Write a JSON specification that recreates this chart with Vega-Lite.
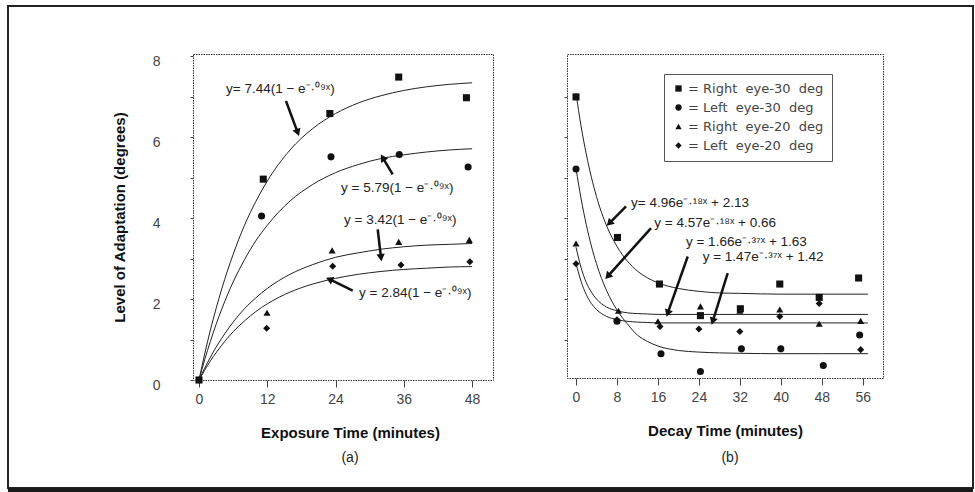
{
  "$schema": "https://vega.github.io/schema/vega-lite/v6.json",
  "background": "white",
  "padding": {"left": 6, "top": 4, "right": 0, "bottom": 0},
  "bounds": "flush",
  "spacing": 74,
  "datasets": {
    "frame": [{"x": -33.56, "x2": 136.02, "y": 9.235, "y2": -2.667}],
    "band": [{"x": -33.56, "x2": 136.02, "y": -2.667, "y2": -2.95}],
    "capA": [{"x": 26.54, "y": -1.926, "t": "(a)"}],
    "capB": [{"x": 30.08, "y": -1.915, "t": "(b)"}],
    "ptsA": [
      {"s": "R30", "x": 0, "y": 0}, {"s": "R30", "x": 11.3, "y": 4.96}, {"s": "R30", "x": 23, "y": 6.58}, {"s": "R30", "x": 35.1, "y": 7.48}, {"s": "R30", "x": 47, "y": 6.97},
      {"s": "L30", "x": 11, "y": 4.05}, {"s": "L30", "x": 23.2, "y": 5.51}, {"s": "L30", "x": 35.2, "y": 5.57}, {"s": "L30", "x": 47.3, "y": 5.26},
      {"s": "R20", "x": 11.95, "y": 1.66}, {"s": "R20", "x": 23.4, "y": 3.2}, {"s": "R20", "x": 35.1, "y": 3.41}, {"s": "R20", "x": 47.5, "y": 3.46},
      {"s": "L20", "x": 0, "y": 0}, {"s": "L20", "x": 11.9, "y": 1.28}, {"s": "L20", "x": 23.5, "y": 2.81}, {"s": "L20", "x": 35.5, "y": 2.84}, {"s": "L20", "x": 47.6, "y": 2.92}
    ],
    "ptsB": [
      {"s": "R30", "x": 0, "y": 7.0}, {"s": "R30", "x": 8.1, "y": 3.53}, {"s": "R30", "x": 16.3, "y": 2.38}, {"s": "R30", "x": 24.3, "y": 1.6}, {"s": "R30", "x": 32.1, "y": 1.77}, {"s": "R30", "x": 39.8, "y": 2.38}, {"s": "R30", "x": 47.5, "y": 2.05}, {"s": "R30", "x": 55.2, "y": 2.53},
      {"s": "L30", "x": 0, "y": 5.22}, {"s": "L30", "x": 8, "y": 1.46}, {"s": "L30", "x": 16.6, "y": 0.66}, {"s": "L30", "x": 24.3, "y": 0.22}, {"s": "L30", "x": 32.3, "y": 0.78}, {"s": "L30", "x": 40, "y": 0.78}, {"s": "L30", "x": 48.3, "y": 0.37}, {"s": "L30", "x": 55.4, "y": 1.12},
      {"s": "R20", "x": 0, "y": 3.38}, {"s": "R20", "x": 8.3, "y": 1.72}, {"s": "R20", "x": 16, "y": 1.46}, {"s": "R20", "x": 24.3, "y": 1.83}, {"s": "R20", "x": 32, "y": 1.72}, {"s": "R20", "x": 39.8, "y": 1.75}, {"s": "R20", "x": 47.5, "y": 1.4}, {"s": "R20", "x": 55.6, "y": 1.47},
      {"s": "L20", "x": 0, "y": 2.88}, {"s": "L20", "x": 8, "y": 1.5}, {"s": "L20", "x": 16.4, "y": 1.33}, {"s": "L20", "x": 24, "y": 1.27}, {"s": "L20", "x": 32, "y": 1.21}, {"s": "L20", "x": 39.8, "y": 1.58}, {"s": "L20", "x": 47.5, "y": 1.9}, {"s": "L20", "x": 55.6, "y": 0.76}
    ],
    "curveA": [
      {"s": "R30", "x": 0, "y": 0}, {"s": "R30", "x": 1, "y": 0.64}, {"s": "R30", "x": 2, "y": 1.23}, {"s": "R30", "x": 3, "y": 1.76}, {"s": "R30", "x": 4, "y": 2.25}, {"s": "R30", "x": 6, "y": 3.1}, {"s": "R30", "x": 8, "y": 3.82}, {"s": "R30", "x": 10, "y": 4.41}, {"s": "R30", "x": 12, "y": 4.91}, {"s": "R30", "x": 16, "y": 5.68}, {"s": "R30", "x": 20, "y": 6.21}, {"s": "R30", "x": 24, "y": 6.58}, {"s": "R30", "x": 28, "y": 6.84}, {"s": "R30", "x": 32, "y": 7.02}, {"s": "R30", "x": 36, "y": 7.15}, {"s": "R30", "x": 40, "y": 7.24}, {"s": "R30", "x": 44, "y": 7.3}, {"s": "R30", "x": 48, "y": 7.34},
      {"s": "L30", "x": 0, "y": 0}, {"s": "L30", "x": 1, "y": 0.5}, {"s": "L30", "x": 2, "y": 0.95}, {"s": "L30", "x": 3, "y": 1.37}, {"s": "L30", "x": 4, "y": 1.75}, {"s": "L30", "x": 6, "y": 2.42}, {"s": "L30", "x": 8, "y": 2.97}, {"s": "L30", "x": 10, "y": 3.44}, {"s": "L30", "x": 12, "y": 3.82}, {"s": "L30", "x": 16, "y": 4.42}, {"s": "L30", "x": 20, "y": 4.83}, {"s": "L30", "x": 24, "y": 5.12}, {"s": "L30", "x": 28, "y": 5.32}, {"s": "L30", "x": 32, "y": 5.47}, {"s": "L30", "x": 36, "y": 5.56}, {"s": "L30", "x": 40, "y": 5.63}, {"s": "L30", "x": 44, "y": 5.68}, {"s": "L30", "x": 48, "y": 5.71},
      {"s": "R20", "x": 0, "y": 0}, {"s": "R20", "x": 1, "y": 0.29}, {"s": "R20", "x": 2, "y": 0.56}, {"s": "R20", "x": 3, "y": 0.81}, {"s": "R20", "x": 4, "y": 1.03}, {"s": "R20", "x": 6, "y": 1.43}, {"s": "R20", "x": 8, "y": 1.76}, {"s": "R20", "x": 10, "y": 2.03}, {"s": "R20", "x": 12, "y": 2.26}, {"s": "R20", "x": 16, "y": 2.61}, {"s": "R20", "x": 20, "y": 2.85}, {"s": "R20", "x": 24, "y": 3.03}, {"s": "R20", "x": 28, "y": 3.14}, {"s": "R20", "x": 32, "y": 3.23}, {"s": "R20", "x": 36, "y": 3.29}, {"s": "R20", "x": 40, "y": 3.33}, {"s": "R20", "x": 44, "y": 3.35}, {"s": "R20", "x": 48, "y": 3.37},
      {"s": "L20", "x": 0, "y": 0}, {"s": "L20", "x": 1, "y": 0.24}, {"s": "L20", "x": 2, "y": 0.47}, {"s": "L20", "x": 3, "y": 0.67}, {"s": "L20", "x": 4, "y": 0.86}, {"s": "L20", "x": 6, "y": 1.19}, {"s": "L20", "x": 8, "y": 1.46}, {"s": "L20", "x": 10, "y": 1.69}, {"s": "L20", "x": 12, "y": 1.88}, {"s": "L20", "x": 16, "y": 2.17}, {"s": "L20", "x": 20, "y": 2.37}, {"s": "L20", "x": 24, "y": 2.51}, {"s": "L20", "x": 28, "y": 2.61}, {"s": "L20", "x": 32, "y": 2.68}, {"s": "L20", "x": 36, "y": 2.73}, {"s": "L20", "x": 40, "y": 2.76}, {"s": "L20", "x": 44, "y": 2.79}, {"s": "L20", "x": 48, "y": 2.8}
    ],
    "curveB": [
      {"s": "R30", "x": 0, "y": 7.09}, {"s": "R30", "x": 1, "y": 6.27}, {"s": "R30", "x": 2, "y": 5.59}, {"s": "R30", "x": 3, "y": 5.02}, {"s": "R30", "x": 4, "y": 4.54}, {"s": "R30", "x": 6, "y": 3.81}, {"s": "R30", "x": 8, "y": 3.31}, {"s": "R30", "x": 10, "y": 2.95}, {"s": "R30", "x": 12, "y": 2.7}, {"s": "R30", "x": 14, "y": 2.53}, {"s": "R30", "x": 16, "y": 2.41}, {"s": "R30", "x": 20, "y": 2.27}, {"s": "R30", "x": 24, "y": 2.2}, {"s": "R30", "x": 28, "y": 2.16}, {"s": "R30", "x": 32, "y": 2.15}, {"s": "R30", "x": 40, "y": 2.13}, {"s": "R30", "x": 48, "y": 2.13}, {"s": "R30", "x": 57, "y": 2.13},
      {"s": "L30", "x": 0, "y": 5.23}, {"s": "L30", "x": 1, "y": 4.48}, {"s": "L30", "x": 2, "y": 3.85}, {"s": "L30", "x": 3, "y": 3.32}, {"s": "L30", "x": 4, "y": 2.88}, {"s": "L30", "x": 6, "y": 2.21}, {"s": "L30", "x": 8, "y": 1.74}, {"s": "L30", "x": 10, "y": 1.4}, {"s": "L30", "x": 12, "y": 1.12}, {"s": "L30", "x": 14, "y": 0.96}, {"s": "L30", "x": 16, "y": 0.85}, {"s": "L30", "x": 20, "y": 0.74}, {"s": "L30", "x": 24, "y": 0.7}, {"s": "L30", "x": 28, "y": 0.68}, {"s": "L30", "x": 32, "y": 0.67}, {"s": "L30", "x": 40, "y": 0.66}, {"s": "L30", "x": 48, "y": 0.66}, {"s": "L30", "x": 57, "y": 0.66},
      {"s": "R20", "x": 0, "y": 3.29}, {"s": "R20", "x": 1, "y": 2.78}, {"s": "R20", "x": 2, "y": 2.42}, {"s": "R20", "x": 3, "y": 2.18}, {"s": "R20", "x": 4, "y": 2.01}, {"s": "R20", "x": 6, "y": 1.81}, {"s": "R20", "x": 8, "y": 1.72}, {"s": "R20", "x": 10, "y": 1.67}, {"s": "R20", "x": 12, "y": 1.65}, {"s": "R20", "x": 14, "y": 1.64}, {"s": "R20", "x": 16, "y": 1.63}, {"s": "R20", "x": 24, "y": 1.63}, {"s": "R20", "x": 40, "y": 1.63}, {"s": "R20", "x": 57, "y": 1.63},
      {"s": "L20", "x": 0, "y": 2.89}, {"s": "L20", "x": 1, "y": 2.44}, {"s": "L20", "x": 2, "y": 2.12}, {"s": "L20", "x": 3, "y": 1.9}, {"s": "L20", "x": 4, "y": 1.75}, {"s": "L20", "x": 6, "y": 1.58}, {"s": "L20", "x": 8, "y": 1.5}, {"s": "L20", "x": 10, "y": 1.46}, {"s": "L20", "x": 12, "y": 1.44}, {"s": "L20", "x": 14, "y": 1.43}, {"s": "L20", "x": 16, "y": 1.42}, {"s": "L20", "x": 24, "y": 1.42}, {"s": "L20", "x": 40, "y": 1.42}, {"s": "L20", "x": 57, "y": 1.42}
    ],
    "annA": [
      {"x": 4.75, "y": 7.19, "t": "y= 7.44(1 − e⁻·⁰⁹ˣ)"},
      {"x": 24.96, "y": 4.75, "t": "y = 5.79(1 − e⁻·⁰⁹ˣ)"},
      {"x": 25.49, "y": 3.95, "t": "y = 3.42(1 − e⁻·⁰⁹ˣ)"},
      {"x": 28.12, "y": 2.15, "t": "y = 2.84(1 − e⁻·⁰⁹ˣ)"}
    ],
    "arrA": [
      {"x": 15.29, "y": 6.89, "x2": 17.35, "y2": 6.11},
      {"x": 34.04, "y": 5.08, "x2": 32.29, "y2": 5.49},
      {"x": 31.41, "y": 3.72, "x2": 31.99, "y2": 3.02},
      {"x": 27.02, "y": 2.21, "x2": 22.91, "y2": 2.49}
    ],
    "headA": [
      {"x": 17.35, "y": 6.11, "ang": 160},
      {"x": 32.29, "y": 5.49, "ang": 329},
      {"x": 31.99, "y": 3.02, "ang": 173},
      {"x": 22.91, "y": 2.49, "ang": 295}
    ],
    "annB": [
      {"x": 10.74, "y": 4.38, "t": "y= 4.96e⁻·¹⁸ˣ + 2.13"},
      {"x": 15.29, "y": 3.88, "t": "y = 4.57e⁻·¹⁸ˣ + 0.66"},
      {"x": 21.48, "y": 3.43, "t": "y = 1.66e⁻·³⁷ˣ + 1.63"},
      {"x": 24.75, "y": 3.06, "t": "y = 1.47e⁻·³⁷ˣ + 1.42"}
    ],
    "arrB": [
      {"x": 9.77, "y": 4.3, "x2": 6.5, "y2": 3.88},
      {"x": 14.65, "y": 3.76, "x2": 6.19, "y2": 2.57},
      {"x": 21.82, "y": 3.06, "x2": 17.91, "y2": 1.66},
      {"x": 29.63, "y": 2.65, "x2": 26.7, "y2": 1.46}
    ],
    "headB": [
      {"x": 6.5, "y": 3.88, "ang": 225},
      {"x": 6.19, "y": 2.57, "ang": 222},
      {"x": 17.91, "y": 1.66, "ang": 199},
      {"x": 26.7, "y": 1.46, "ang": 197}
    ]
  },
  "hconcat": [
    {
      "width": 300,
      "height": 326,
      "encoding": {
        "x": {"field": "x", "type": "quantitative", "scale": {"domain": [-1.05, 51.67], "nice": false, "zero": false},
          "axis": {"values": [0, 12, 24, 36, 48], "tickSize": 7, "labelPadding": 5, "titlePadding": 19, "titleX": 157},
          "title": "Exposure Time (minutes)"},
        "y": {"field": "y", "type": "quantitative", "scale": {"domain": [0, 8.05], "nice": false, "zero": false},
          "axis": {"values": [0, 1, 2, 3, 4, 5, 6, 7, 8], "labelExpr": "datum.value % 2 == 0 ? datum.label : ''", "tickSize": 3, "labelPadding": 30, "labelOffset": 5, "titlePadding": 25},
          "title": "Level of Adaptation (degrees)"}
      },
      "layer": [
        {"data": {"name": "frame"}, "mark": {"type": "rect", "fill": "white", "fillOpacity": 0, "stroke": "#222", "strokeWidth": 2, "clip": false}, "encoding": {"x2": {"field": "x2"}, "y2": {"field": "y2"}}},
        {"data": {"name": "band"}, "mark": {"type": "rect", "color": "#1a1a1a", "clip": false}, "encoding": {"x2": {"field": "x2"}, "y2": {"field": "y2"}}},
        {"data": {"name": "curveA"}, "mark": {"type": "line", "color": "#222", "strokeWidth": 1, "interpolate": "monotone"}, "encoding": {"detail": {"field": "s"}}},
        {"data": {"name": "ptsA"}, "mark": {"type": "point", "filled": true, "size": 50, "color": "#111", "opacity": 1},
          "encoding": {"shape": {"field": "s", "type": "nominal", "scale": {"domain": ["R30", "L30", "R20", "L20"], "range": ["square", "circle", "triangle-up", "diamond"]}, "legend": null}}},
        {"data": {"name": "arrA"}, "mark": {"type": "rule", "color": "#111", "strokeWidth": 2.5}, "encoding": {"x2": {"field": "x2"}, "y2": {"field": "y2"}}},
        {"data": {"name": "headA"}, "mark": {"type": "point", "shape": "triangle-up", "filled": true, "color": "#111", "size": 70, "opacity": 1}, "encoding": {"angle": {"field": "ang", "type": "quantitative", "scale": null}}},
        {"data": {"name": "annA"}, "mark": {"type": "text", "align": "left", "baseline": "middle", "font": "Liberation Sans", "fontSize": 13.5, "color": "#222"}, "encoding": {"text": {"field": "t"}}},
        {"data": {"name": "capA"}, "mark": {"type": "text", "align": "center", "baseline": "middle", "font": "Liberation Sans", "fontSize": 14, "color": "#222", "clip": false}, "encoding": {"text": {"field": "t"}}}
      ]
    },
    {
      "width": 316,
      "height": 324,
      "encoding": {
        "x": {"field": "x", "type": "quantitative", "scale": {"domain": [-1.76, 59.96], "nice": false, "zero": false},
          "axis": {"values": [0, 8, 16, 24, 32, 40, 48, 56], "tickSize": 7, "labelPadding": 5, "titlePadding": 19},
          "title": "Decay Time (minutes)"},
        "y": {"field": "y", "type": "quantitative", "scale": {"domain": [0.06, 8.06], "nice": false, "zero": false},
          "axis": {"values": [1, 2, 3, 4, 5, 6, 7], "labels": false, "tickSize": 3, "title": null}}
      },
      "layer": [
        {"data": {"name": "curveB"}, "mark": {"type": "line", "color": "#222", "strokeWidth": 1, "interpolate": "monotone"}, "encoding": {"detail": {"field": "s"}}},
        {"data": {"name": "ptsB"}, "mark": {"type": "point", "filled": true, "size": 50, "color": "#111", "opacity": 1},
          "encoding": {"shape": {"field": "s", "type": "nominal", "scale": {"domain": ["R30", "L30", "R20", "L20"], "range": ["square", "circle", "triangle-up", "diamond"]},
            "legend": {"orient": "none", "legendX": 97, "legendY": 20, "title": null, "strokeColor": "#555", "padding": 8,
              "labelFont": "DejaVu Sans", "labelFontSize": 13, "labelColor": "#444", "symbolFillColor": "#111", "symbolStrokeColor": "#111", "symbolSize": 40, "rowPadding": 5, "labelOffset": 3,
              "labelExpr": "datum.value == 'R30' ? '=\u00a0Right\u00a0\u00a0eye-30\u00a0\u00a0deg' : datum.value == 'L30' ? '=\u00a0Left\u00a0\u00a0eye-30\u00a0\u00a0deg' : datum.value == 'R20' ? '=\u00a0Right\u00a0\u00a0eye-20\u00a0\u00a0deg' : '=\u00a0Left\u00a0\u00a0eye-20\u00a0\u00a0deg'"}}}},
        {"data": {"name": "arrB"}, "mark": {"type": "rule", "color": "#111", "strokeWidth": 2.5}, "encoding": {"x2": {"field": "x2"}, "y2": {"field": "y2"}}},
        {"data": {"name": "headB"}, "mark": {"type": "point", "shape": "triangle-up", "filled": true, "color": "#111", "size": 70, "opacity": 1}, "encoding": {"angle": {"field": "ang", "type": "quantitative", "scale": null}}},
        {"data": {"name": "annB"}, "mark": {"type": "text", "align": "left", "baseline": "middle", "font": "Liberation Sans", "fontSize": 13.5, "color": "#222"}, "encoding": {"text": {"field": "t"}}},
        {"data": {"name": "capB"}, "mark": {"type": "text", "align": "center", "baseline": "middle", "font": "Liberation Sans", "fontSize": 14, "color": "#222", "clip": false}, "encoding": {"text": {"field": "t"}}}
      ]
    }
  ],
  "resolve": {"scale": {"shape": "independent"}, "legend": {"shape": "independent"}},
  "config": {
    "view": {"stroke": "#333", "strokeDash": [1.5, 1], "strokeWidth": 1},
    "axis": {"domain": false, "grid": false, "tickColor": "#444", "labelFont": "Liberation Sans", "labelFontSize": 14, "labelColor": "#444", "titleFont": "Liberation Sans", "titleFontSize": 15, "titleFontWeight": "bold", "titleColor": "#111"}
  }
}
